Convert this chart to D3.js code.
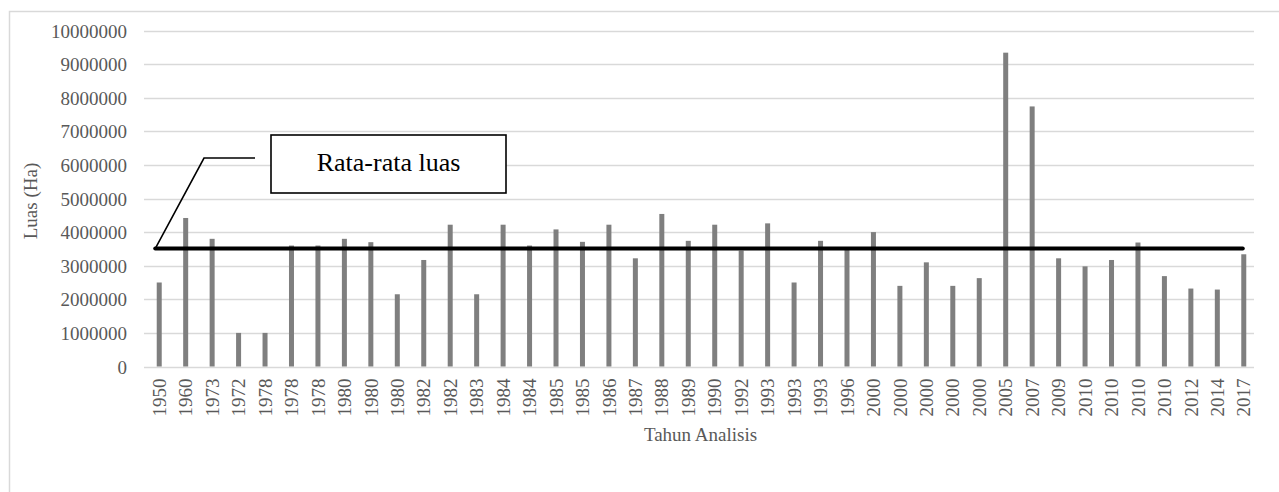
<!DOCTYPE html>
<html>
<head>
<meta charset="utf-8">
<script src="https://cdn.jsdelivr.net/npm/d3@7"></script>
<style>
  html, body { margin: 0; padding: 0; background: #fff; }
  svg { display: block; }
  text { font-family: "Liberation Serif", "Times New Roman", serif; }
</style>
</head>
<body>
<svg id="chart" width="1279" height="492"></svg>
<script>
// Year of each analysed study (categories, in plotted order)
const years = [
  "1950","1960","1973","1972","1978","1978","1978","1980","1980","1980",
  "1982","1982","1983","1984","1984","1985","1985","1986","1987","1988",
  "1989","1990","1992","1993","1993","1993","1996","2000","2000","2000",
  "2000","2000","2005","2007","2009","2010","2010","2010","2010","2012",
  "2014","2017"
];
// Area (Ha) for each study
const luas = [
  2500000, 4420000, 3800000, 1000000, 1000000, 3600000, 3600000, 3800000, 3700000, 2150000,
  3170000, 4220000, 2150000, 4220000, 3600000, 4080000, 3710000, 4220000, 3220000, 4540000,
  3740000, 4220000, 3450000, 4260000, 2500000, 3740000, 3500000, 4000000, 2400000, 3100000,
  2400000, 2630000, 9340000, 7740000, 3220000, 2980000, 3170000, 3690000, 2690000, 2320000,
  2290000, 3340000
];
const yTicks = [0, 1000000, 2000000, 3000000, 4000000, 5000000, 6000000, 7000000, 8000000, 9000000, 10000000];
const yTitle = "Luas (Ha)";
const xTitle = "Tahun Analisis";
const calloutText = "Rata-rata luas";

const svg = d3.select("#chart");
const textColor = "#595959";
const gridColor = "#d9d9d9";
const barColor = "#7f7f7f";

// Outer chart frame
svg.append("rect")
  .attr("x", 9.5).attr("y", 11.5)
  .attr("width", 1320).attr("height", 520)
  .attr("fill", "none").attr("stroke", gridColor).attr("stroke-width", 1.5);

const plot = { left: 146, right: 1257, top: 30.5, bottom: 366.5 };

const x = d3.scaleBand()
  .domain(d3.range(years.length))
  .range([plot.left, plot.right])
  .paddingInner(0).paddingOuter(0);

const y = d3.scaleLinear()
  .domain([0, 10000000])
  .range([plot.bottom, plot.top]);

const xc = i => x(i) + x.bandwidth() / 2;

// Horizontal gridlines
svg.append("g")
  .selectAll("line")
  .data(yTicks)
  .join("line")
  .attr("x1", 144).attr("x2", 1254)
  .attr("y1", d => Math.round(y(d)) + 0.5)
  .attr("y2", d => Math.round(y(d)) + 0.5)
  .attr("stroke", gridColor).attr("stroke-width", 1.3);

// Y axis tick labels
const yAxis = d3.axisLeft(y).tickValues(yTicks).tickFormat(d3.format("d")).tickSize(0).tickPadding(0);
const gy = svg.append("g").attr("transform", "translate(127,0)").call(yAxis);
gy.select(".domain").remove();
gy.selectAll("text")
  .attr("fill", textColor)
  .style("font-family", "'Liberation Serif', serif")
  .style("font-size", "19px")
  .attr("dy", "0.35em");

// Bars
const barW = 5;
svg.append("g")
  .selectAll("rect")
  .data(luas)
  .join("rect")
  .attr("x", (d, i) => xc(i) - barW / 2)
  .attr("y", d => y(d))
  .attr("width", barW)
  .attr("height", d => y(0) - y(d))
  .attr("fill", barColor);

// X axis labels, rotated
const xAxis = d3.axisBottom(x).tickFormat(i => years[i]).tickSize(0).tickPadding(0);
const gx = svg.append("g").attr("transform", `translate(0,${plot.bottom})`).call(xAxis);
gx.select(".domain").remove();
gx.selectAll("text")
  .attr("fill", textColor)
  .style("font-family", "'Liberation Serif', serif")
  .style("font-size", "19px")
  .attr("text-anchor", "end")
  .attr("transform", "translate(0,12) rotate(-90)")
  .attr("x", 0).attr("y", 0)
  .attr("dy", "0.35em");

// Axis titles
svg.append("text")
  .attr("transform", "translate(30,201) rotate(-90)")
  .attr("text-anchor", "middle").attr("dy", "0.35em")
  .attr("fill", textColor).style("font-size", "19px")
  .text(yTitle);

svg.append("text")
  .attr("x", (plot.left + plot.right) / 2 - 1).attr("y", 441)
  .attr("text-anchor", "middle")
  .attr("fill", textColor).style("font-size", "19px")
  .text(xTitle);

// Average line across all studies
const avg = d3.mean(luas);
const avgY = y(avg);
const lineX1 = xc(0) - 4;
const lineX2 = xc(years.length - 1) - 1;
svg.append("line")
  .attr("x1", lineX1).attr("x2", lineX2)
  .attr("y1", avgY).attr("y2", avgY)
  .attr("stroke", "#000").attr("stroke-width", 4)
  .attr("stroke-linecap", "round");

// Callout labelling the average line
svg.append("polyline")
  .attr("points", [[lineX1, avgY], [204, 158], [255, 158]].map(p => p.join(",")).join(" "))
  .attr("fill", "none").attr("stroke", "#000").attr("stroke-width", 1.6);

svg.append("rect")
  .attr("x", 271).attr("y", 135)
  .attr("width", 235).attr("height", 58)
  .attr("fill", "#fff").attr("stroke", "#000").attr("stroke-width", 1.6);

svg.append("text")
  .attr("x", 388.5).attr("y", 171)
  .attr("text-anchor", "middle")
  .attr("fill", "#000").style("font-size", "26px")
  .text(calloutText);
</script>
</body>
</html>
